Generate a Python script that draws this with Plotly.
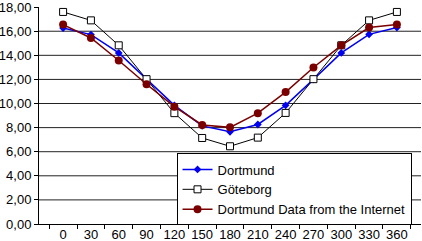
import plotly.graph_objects as go

angles = ["0", "30", "60", "90", "120", "150", "180", "210", "240", "270", "300", "330", "360"]
dortmund = [16.26, 15.72, 14.20, 12.00, 9.85, 8.14, 7.65, 8.26, 9.85, 12.00, 14.20, 15.74, 16.30]
goteborg = [17.60, 16.90, 14.83, 12.02, 9.20, 7.14, 6.45, 7.17, 9.22, 12.02, 14.83, 16.90, 17.60]
dortmund_net = [16.55, 15.44, 13.57, 11.60, 9.74, 8.22, 8.02, 9.20, 10.95, 12.99, 14.83, 16.30, 16.55]
ytick_vals = [0, 2, 4, 6, 8, 10, 12, 14, 16, 18]
ytick_text = ["0,00", "2,00", "4,00", "6,00", "8,00", "10,00", "12,00", "14,00", "16,00", "18,00"]

font = dict(family="Liberation Sans, Arial, sans-serif", size=13, color="black")

fig = go.Figure()
fig.add_trace(go.Scatter(x=angles, y=dortmund, name="Dortmund", mode="lines+markers",
                         line=dict(color="#0000ee", width=1.5),
                         marker=dict(symbol="diamond", size=6, color="#0000ee")))
fig.add_trace(go.Scatter(x=angles, y=goteborg, name="Göteborg", mode="lines+markers",
                         line=dict(color="black", width=1),
                         marker=dict(symbol="square", size=7, color="white",
                                     line=dict(color="black", width=1))))
fig.add_trace(go.Scatter(x=angles, y=dortmund_net, name="Dortmund Data from the Internet",
                         mode="lines+markers",
                         line=dict(color="#7a0000", width=1.5),
                         marker=dict(symbol="circle", size=8, color="#7a0000")))

# horizontal gridlines (inner ticks only, as in the reference)
for v in ytick_vals[1:-1]:
    fig.add_shape(type="line", xref="paper", x0=0, x1=1, yref="y", y0=v, y1=v,
                  line=dict(color="#222222", width=1), layer="below")

fig.update_layout(
    width=422, height=241,
    margin=dict(l=39, r=1, t=7, b=17),
    paper_bgcolor="white", plot_bgcolor="white",
    font=font,
    showlegend=True,
    legend=dict(x=0.36, y=0.325, xanchor="left", yanchor="top",
                bgcolor="white", bordercolor="black", borderwidth=1,
                font=font, itemwidth=30, tracegroupgap=0,
                traceorder="normal"),
    xaxis=dict(type="category", tickson="boundaries", ticks="outside", ticklen=4,
               tickcolor="black", showline=True, linecolor="black", linewidth=1,
               showgrid=False, tickfont=font, tickangle=0, automargin=False,
               ticklabeloverflow="allow", ticklabelstandoff=-2, fixedrange=True),
    yaxis=dict(range=[0, 18.01], tickvals=ytick_vals, ticktext=ytick_text,
               ticks="outside", ticklen=4, tickcolor="black",
               showline=True, linecolor="black", linewidth=1,
               showgrid=False, zeroline=False, tickfont=font, automargin=False,
               ticklabeloverflow="allow", fixedrange=True),
)

fig.write_html("out.html", config={"displayModeBar": False},
               post_script="document.body.style.margin='0';")
